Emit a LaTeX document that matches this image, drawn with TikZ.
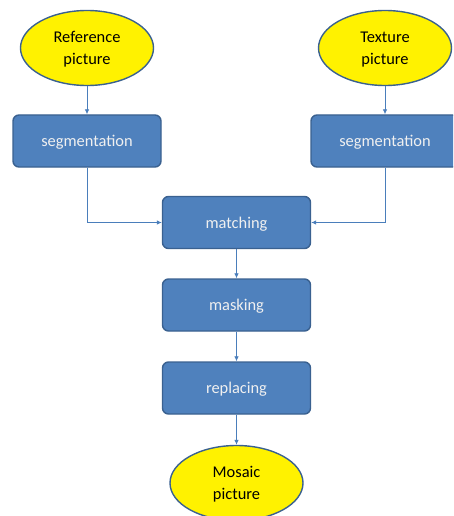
\documentclass[tikz,border=0pt]{standalone}
\usepackage{fontspec}
\setmainfont{Carlito}
\usetikzlibrary{shapes.geometric,arrows.meta}
\definecolor{boxblue}{HTML}{4F81BD}
\definecolor{edgeblue}{HTML}{3A6190}
\definecolor{lineblue}{HTML}{4A7EBB}
\newcommand{\flowfont}{\fontsize{16.4}{22}\selectfont}
\tikzset{
  stagebox/.style={draw=edgeblue, line width=1.4pt, fill=boxblue,
    rounded corners=6pt, minimum width=148pt, minimum height=52pt,
    text depth=0pt, text=white!94!black, font=\flowfont},
  picoval/.style={ellipse, draw=edgeblue, line width=1.4pt, fill=yellow,
    minimum width=133pt, minimum height=75pt, inner sep=0pt,
    text depth=0pt, align=center, font=\flowfont},
  flow/.style={draw=lineblue, line width=0.8pt, -{Latex[length=5pt,width=4.5pt]}}
}

\begin{document}
\begin{tikzpicture}[x=1pt, y=-1pt]
\useasboundingbox (0,0) rectangle (453,516);
\clip (0,0) rectangle (453,516);
% inputs
\node[picoval] (ref) at (87,48) {Reference\\picture};
\node[picoval] (tex) at (385,48) {Texture\\picture};
\node[stagebox] (segl) at (87,141) {segmentation};
\node[stagebox] (segr) at (385,141) {segmentation};
% main chain
\node[stagebox] (match) at (236.5,222.5) {matching};
\node[stagebox] (mask) at (236.5,305) {masking};
\node[stagebox] (repl) at (236.5,388) {replacing};
\node[picoval] (mosaic) at (236.5,483) {Mosaic\\picture};
% connectors
\draw[flow] (ref) -- (segl);
\draw[flow] (tex) -- (segr);
\draw[flow] (segl.south) |- (match.west);
\draw[flow] (segr.south) |- (match.east);
\draw[flow] (match) -- (mask);
\draw[flow] (mask) -- (repl);
\draw[flow] (repl) -- (mosaic);
\end{tikzpicture}
\end{document}
